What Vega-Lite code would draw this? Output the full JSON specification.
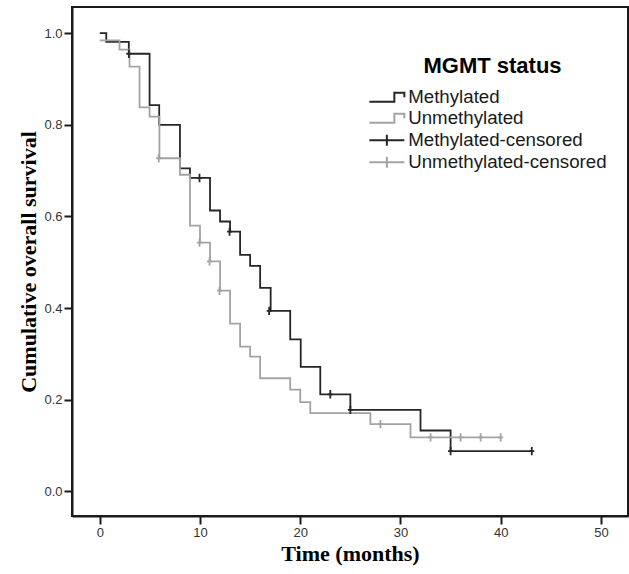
{
  "$schema": "https://vega.github.io/schema/vega-lite/v6.json",
  "width": 556,
  "height": 509,
  "autosize": "none",
  "padding": {"left": 72, "top": 7, "right": 1, "bottom": 58},
  "background": "white",
  "config": {
    "view": {"stroke": "#1a1a1a", "strokeWidth": 2},
    "axis": {
      "domainColor": "#1a1a1a", "domainWidth": 2,
      "tickColor": "#1a1a1a", "tickWidth": 2, "tickSize": 8,
      "grid": false,
      "labelFont": "Liberation Sans", "labelFontSize": 13, "labelColor": "#333333",
      "titleFont": "Liberation Serif", "titleFontWeight": "bold", "titleFontSize": 22, "titleColor": "#000000"
    }
  },
  "datasets": {
    "curves": [
      {"status": "Methylated", "time": 0, "survival": 1.0},
      {"status": "Methylated", "time": 0.65, "survival": 0.981},
      {"status": "Methylated", "time": 2.9, "survival": 0.955},
      {"status": "Methylated", "time": 4.97, "survival": 0.843},
      {"status": "Methylated", "time": 5.93, "survival": 0.8},
      {"status": "Methylated", "time": 8.0, "survival": 0.705},
      {"status": "Methylated", "time": 9.0, "survival": 0.684},
      {"status": "Methylated", "time": 11.0, "survival": 0.613},
      {"status": "Methylated", "time": 12.0, "survival": 0.589},
      {"status": "Methylated", "time": 13.0, "survival": 0.567},
      {"status": "Methylated", "time": 14.0, "survival": 0.516},
      {"status": "Methylated", "time": 15.0, "survival": 0.492},
      {"status": "Methylated", "time": 16.0, "survival": 0.444},
      {"status": "Methylated", "time": 17.05, "survival": 0.394},
      {"status": "Methylated", "time": 19.0, "survival": 0.332},
      {"status": "Methylated", "time": 20.05, "survival": 0.272},
      {"status": "Methylated", "time": 22.0, "survival": 0.212},
      {"status": "Methylated", "time": 25.0, "survival": 0.178},
      {"status": "Methylated", "time": 32.0, "survival": 0.133},
      {"status": "Methylated", "time": 35.0, "survival": 0.088},
      {"status": "Methylated", "time": 43.1, "survival": 0.088},
      {"status": "Unmethylated", "time": 0, "survival": 0.984},
      {"status": "Unmethylated", "time": 1.97, "survival": 0.964},
      {"status": "Unmethylated", "time": 2.97, "survival": 0.927},
      {"status": "Unmethylated", "time": 3.97, "survival": 0.838},
      {"status": "Unmethylated", "time": 4.97, "survival": 0.818},
      {"status": "Unmethylated", "time": 5.95, "survival": 0.727},
      {"status": "Unmethylated", "time": 8.0, "survival": 0.691},
      {"status": "Unmethylated", "time": 9.0, "survival": 0.58},
      {"status": "Unmethylated", "time": 10.0, "survival": 0.543},
      {"status": "Unmethylated", "time": 11.0, "survival": 0.502},
      {"status": "Unmethylated", "time": 12.0, "survival": 0.438},
      {"status": "Unmethylated", "time": 13.0, "survival": 0.366},
      {"status": "Unmethylated", "time": 14.0, "survival": 0.316},
      {"status": "Unmethylated", "time": 15.0, "survival": 0.294},
      {"status": "Unmethylated", "time": 16.0, "survival": 0.247},
      {"status": "Unmethylated", "time": 19.0, "survival": 0.222},
      {"status": "Unmethylated", "time": 20.0, "survival": 0.195},
      {"status": "Unmethylated", "time": 21.0, "survival": 0.171},
      {"status": "Unmethylated", "time": 27.0, "survival": 0.147},
      {"status": "Unmethylated", "time": 31.0, "survival": 0.118},
      {"status": "Unmethylated", "time": 40.0, "survival": 0.118}
    ],
    "censored": [
      {"status": "Methylated-censored", "time": 2.9, "survival": 0.955},
      {"status": "Methylated-censored", "time": 9.95, "survival": 0.684},
      {"status": "Methylated-censored", "time": 12.95, "survival": 0.567},
      {"status": "Methylated-censored", "time": 16.9, "survival": 0.394},
      {"status": "Methylated-censored", "time": 23.0, "survival": 0.212},
      {"status": "Methylated-censored", "time": 25.0, "survival": 0.178},
      {"status": "Methylated-censored", "time": 35.0, "survival": 0.088},
      {"status": "Methylated-censored", "time": 43.1, "survival": 0.088},
      {"status": "Unmethylated-censored", "time": 5.88, "survival": 0.727},
      {"status": "Unmethylated-censored", "time": 9.95, "survival": 0.543},
      {"status": "Unmethylated-censored", "time": 10.95, "survival": 0.502},
      {"status": "Unmethylated-censored", "time": 11.95, "survival": 0.438},
      {"status": "Unmethylated-censored", "time": 28.0, "survival": 0.147},
      {"status": "Unmethylated-censored", "time": 33.0, "survival": 0.118},
      {"status": "Unmethylated-censored", "time": 36.0, "survival": 0.118},
      {"status": "Unmethylated-censored", "time": 38.0, "survival": 0.118},
      {"status": "Unmethylated-censored", "time": 40.0, "survival": 0.118}
    ]
  },
  "encoding": {
    "x": {
      "field": "time", "type": "quantitative",
      "scale": {"domain": [-2.77, 52.7], "nice": false, "zero": false},
      "axis": {"values": [0, 10, 20, 30, 40, 50], "title": "Time (months)", "labelPadding": 2, "titlePadding": 4}
    },
    "y": {
      "field": "survival", "type": "quantitative",
      "scale": {"domain": [-0.0535, 1.057], "nice": false, "zero": false},
      "axis": {"values": [0, 0.2, 0.4, 0.6, 0.8, 1.0], "format": ".1f", "title": "Cumulative overall survival", "labelPadding": 2, "titlePadding": 3}
    },
    "color": {
      "field": "status", "type": "nominal",
      "scale": {
        "domain": ["Methylated", "Unmethylated", "Methylated-censored", "Unmethylated-censored"],
        "range": ["#262626", "#a3a3a3", "#262626", "#a3a3a3"]
      },
      "legend": {
        "orient": "none", "legendX": 305.5, "legendY": 49,
        "title": "MGMT status",
        "titleFont": "Liberation Sans", "titleFontWeight": "bold", "titleFontSize": 22, "titleColor": "#000000",
        "titleAnchor": "middle", "titlePadding": 10,
        "labelFont": "Liberation Sans", "labelFontSize": 18.7, "labelColor": "#1a1a1a", "labelLimit": 0,
        "labelOffset": 12, "symbolSize": 100, "symbolStrokeWidth": 2, "rowPadding": 1,
        "encode": {
          "symbols": {
            "update": {
              "shape": {"signal": "indexof(['Methylated','Unmethylated'], datum.value) >= 0 ? 'M-3.5,0.9H1.5V-0.9H3.5V0' : 'M-3.5,0H3.5M0,-1.1V1.1'"},
              "fill": {"value": "transparent"},
              "strokeWidth": {"value": 2}
            }
          }
        }
      }
    }
  },
  "layer": [
    {
      "data": {"name": "curves"},
      "mark": {"type": "line", "interpolate": "step-after", "strokeWidth": 1.8}
    },
    {
      "data": {"name": "censored"},
      "mark": {"type": "point", "shape": "M-0.6,0H0.6M0,-1V1", "size": 70, "strokeWidth": 1.8, "filled": false, "opacity": 1}
    }
  ]
}
